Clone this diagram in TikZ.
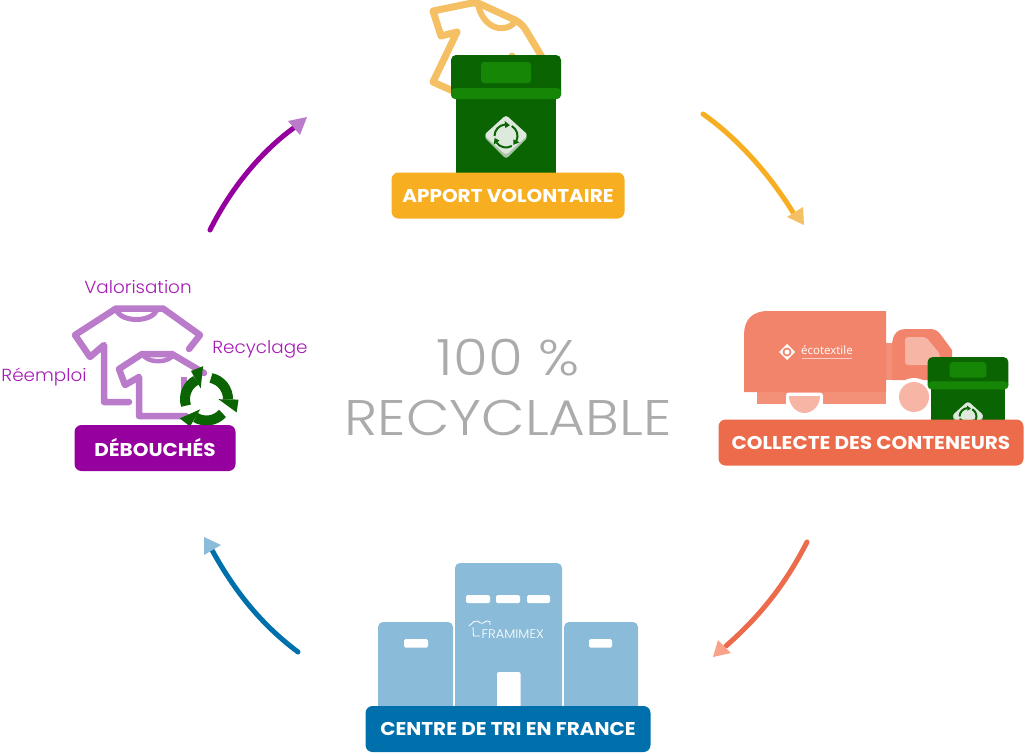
\documentclass[tikz,border=0pt]{standalone}
\usepackage{fontspec}
\setmainfont{Poppins}
\newfontfamily\bannerfont[FakeStretch=1.08]{Poppins Bold}
\newfontfamily\labfont[FakeStretch=1.05]{Poppins Light}
\newfontfamily\bigfont[FakeStretch=1.13]{Poppins Light}
\newfontfamily\ecofont{Open Sans}
\definecolor{cOrange}{HTML}{F7AE21}
\definecolor{cOrangeL}{HTML}{F5C063}
\definecolor{cRed}{HTML}{EC6B4B}
\definecolor{cRedL}{HTML}{F2846B}
\definecolor{cRedM}{HTML}{F29078}
\definecolor{cRedP}{HTML}{F6B5A5}
\definecolor{cRedT}{HTML}{F9A28A}
\definecolor{cBlue}{HTML}{0070AC}
\definecolor{cBlueL}{HTML}{8ABCD9}
\definecolor{cPurple}{HTML}{95009E}
\definecolor{cPurpleL}{HTML}{BB7BCB}
\definecolor{cPurpleT}{HTML}{A51BB5}
\definecolor{cGreen}{HTML}{0A6402}
\definecolor{cGreenL}{HTML}{168607}
\definecolor{cPale}{HTML}{DDE9DD}
\definecolor{cPaleD}{HTML}{A9C4A6}
\definecolor{cGrey}{HTML}{ABABAB}
\usetikzlibrary{calc}
\tikzset{
 x=1pt,y=-1pt,
 banner/.style={rounded corners=7pt,minimum height=46pt,inner sep=0pt,text=white,font=\bannerfont\fontsize{18.5}{20}\selectfont},
 lab/.style={text=cPurpleT,font=\labfont\fontsize{17.5}{20}\selectfont,inner sep=0pt},
 big/.style={text=cGrey,font=\bigfont\fontsize{50}{56}\selectfont,inner sep=0pt},
 flow/.style={line width=5pt,line cap=round},
 tee/.style={line width=6.5pt,line join=round,line cap=round,draw=cPurpleL,fill=none},
 topshirt/.style={line width=7pt,line join=round,line cap=round,draw=cOrangeL},
 win/.style={fill=white,rounded corners=1.5pt}
}
\newcommand{\bin}[3]{%
 \begin{scope}[shift={(#1,#2)},scale=#3]
  \fill[cGreen] (-50,40) rectangle (50,125);
  \fill[cGreen,rounded corners=5pt] (-55,0) rectangle (55,44);
  \fill[cGreenL,rounded corners=4pt] (-55,33) -- (55,33) -- (55,44) -- (-55,44) -- cycle;
  \fill[cGreenL,rounded corners=3pt] (-25,7) rectangle (25,28);
  \fill[cPaleD,rounded corners=3pt] (0,62) -- (22,82) -- (0,104) -- (-22,82) -- cycle;
  \fill[cPale,rounded corners=3pt] (0,60) -- (22,80) -- (0,100) -- (-22,80) -- cycle;
  \foreach \r in {0,120,240}{
   \draw[cGreen,line width=2pt] ($(0,81)+(\r-60:11.5)$) arc (\r-60:\r+25:11.5);
   \fill[cGreen] ($(0,81)+(\r+25:8)$) -- ($(0,81)+(\r+25:15)$) -- ($(0,81)+(\r+50:11.5)$) -- cycle;
  }
 \end{scope}}
\begin{document}
\begin{tikzpicture}
\useasboundingbox (0,0) rectangle (1024,753);
\fill[white] (0,0) rectangle (1024,753);

% top: T-shirt and bin
\draw[topshirt] (453,91) -- (433,82) -- (457,32) -- (441,36) -- (433,11) -- (472,3) -- (478,3)
  -- (515,20) .. controls (521,23) and (524,27) .. (527,32) -- (542,57);
\draw[topshirt,line width=6pt] (478,5) .. controls (484,30) and (506,34) .. (516,21);
\fill[cOrangeL] (512,56) circle (3.5);
\bin{506}{55}{1}
\node[banner,fill=cOrange,minimum width=233pt] (apport) at (508,195.5) {APPORT VOLONTAIRE};

% truck
\fill[cRedM] (757,380) rectangle (886,404);
\fill[cRedM] (885,343) rectangle (905,380);
\fill[cRedL] (892,346) .. controls (892,334) and (898,329) .. (905,329) -- (930,329) .. controls (935,329) and (938,331) .. (941,335) -- (952,350) -- (952,380) -- (892,380) -- cycle;
\fill[cRedP,rounded corners=3pt] (905,337) -- (926,337) -- (940,354) -- (940,365) -- (905,365) -- cycle;
\fill[cRedL] (744,392) -- (744,335) .. controls (744,320) and (752,311) .. (768,311) -- (886,311) -- (886,392) -- cycle;
\fill[white] (914,397) circle (19);
\fill[cRedP] (914,397) circle (15);
\fill[white,rounded corners=3pt] (786,392.5) -- (823,392.5) -- (823,402) -- (786,402) -- cycle;
\fill[white] (786,398) rectangle (823,404);
\fill[cRedP] (789,396) -- (820,396) .. controls (820,406) and (812,413) .. (804.5,413) .. controls (797,413) and (789,406) .. (789,396) -- cycle;
\fill[white] (779,352) -- (787,344) -- (795,352) -- (787,360) -- cycle;
\fill[cRedL] (787,352) circle (4.5);
\fill[white] (787,352) circle (2.5);
\node[text=white,inner sep=0pt,anchor=west,font=\ecofont\fontsize{11.5}{12}\selectfont] (eco) at (801,350.5) {écotextile};
\fill[white,opacity=.6] (802,357.8) rectangle (852,358.8);
\bin{968}{357}{0.735}
\node[banner,fill=cRed,minimum width=305pt] (collecte) at (871,442.5) {COLLECTE DES CONTENEURS};

% factory
\fill[cBlueL,rounded corners=5pt] (378,720) -- (378,622) -- (453,622) -- (453,720) -- cycle;
\fill[cBlueL,rounded corners=5pt] (455,720) -- (455,563) -- (562,563) -- (562,720) -- cycle;
\fill[cBlueL,rounded corners=5pt] (564,720) -- (564,622) -- (638,622) -- (638,720) -- cycle;
\fill[win] (404,639) rectangle (428,647.5);
\fill[win] (466,595) rectangle (490,603);
\fill[win] (496,595) rectangle (520,603);
\fill[win] (527,595) rectangle (550,603);
\fill[win] (589,639) rectangle (612,647.5);
\fill[white,rounded corners=2pt] (497,720) -- (497,672) -- (520.5,672) -- (520.5,720) -- cycle;
\draw[white,line width=.8pt,line join=round] (469,626) -- (474,621.5) -- (478,621) .. controls (480,624) and (484,624) .. (486,621) -- (490,621.5) -- (490,625) (473,627) -- (473.5,636) -- (480,636);
\node[text=white,inner sep=0pt,anchor=west,font=\labfont\fontsize{12.5}{14}\selectfont] (fram) at (481.5,634) {FRAMIMEX};
\node[banner,fill=cBlue,minimum width=285pt] (centre) at (508,729) {CENTRE DE TRI EN FRANCE};

% debouches
\draw[tee] (129,402) -- (104,402) -- (104,345) -- (90,357) -- (75,335) -- (116,308.5)
  -- (163,308.5) -- (200,335) -- (189,349);
\draw[tee,line width=5pt,line cap=butt] (116,309) .. controls (120,323) and (153,323) .. (157,309);
\draw[tee] (186,416) -- (139,416) -- (139,377) -- (125,385) -- (119,369) -- (142,354)
  -- (172,354) -- (204,373);
\draw[tee,line width=4.5pt,line cap=butt] (142,353) .. controls (146,364) and (170,364) .. (175,353);
\draw[tee,line cap=butt] (184,377) -- (184,392);
\begin{scope}[shift={(206.5,399)}]
 \fill[white] (0,0) circle (17);
 \foreach \r in {0,120,240}{
   \draw[cGreen,line width=10pt] (\r-78:21.5) arc (\r-78:\r+1:21.5);
   \fill[cGreen] (\r+1:12) -- (\r+1:32) -- (\r+24:33) -- cycle;
 }
\end{scope}
\node[banner,fill=cPurple,minimum width=161pt] (deb) at (155,448) {DÉBOUCHÉS};
\node[lab] (val) at (138,287) {Valorisation};
\node[lab] (rec) at (260,349) {Recyclage};
\node[lab] (ree) at (44,377) {Réemploi};

% centre text
\node[big] (c1) at (508,358) {100 \%};
\node[big] (c2) at (508,418) {RECYCLABLE};

% arrows
\coordinate (a1s) at (703,114); \coordinate (a1e) at (794,214);
\coordinate (a2s) at (807,542); \coordinate (a2e) at (726,646);
\coordinate (a3s) at (298,652); \coordinate (a3e) at (212,550);
\coordinate (a4s) at (210,230); \coordinate (a4e) at (295,127);
\draw[flow,cOrange] (a1s) .. controls (740,140) and (772,178) .. (a1e);
\fill[cOrangeL] (804,225) -- (787,217) -- (803,207) -- cycle;
\draw[flow,cRed] (a2s) .. controls (785,585) and (760,616) .. (a2e);
\fill[cRedT] (713,657) -- (718,640) -- (731,653) -- cycle;
\draw[flow,cBlue] (a3s) .. controls (262,625) and (235,592) .. (a3e);
\fill[cBlueL] (204,537) -- (221,545) -- (204,555) -- cycle;
\draw[flow,cPurple] (a4s) .. controls (230,190) and (260,152) .. (a4e);
\fill[cPurpleL] (307,117) -- (288,121) -- (300,135) -- cycle;
\end{tikzpicture}
\end{document}
